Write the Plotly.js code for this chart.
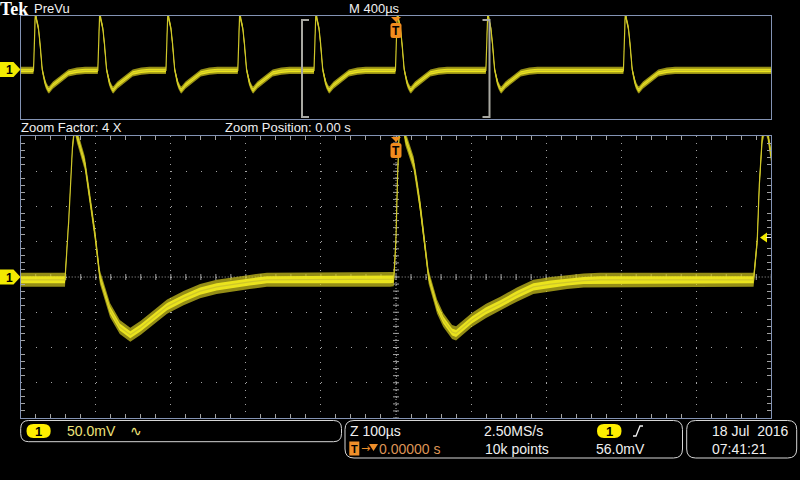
<!DOCTYPE html>
<html><head><meta charset="utf-8">
<script src="https://cdn.plot.ly/plotly-3.0.1.min.js"></script>
<style>html,body{margin:0;padding:0;background:#000;overflow:hidden}#chart{width:800px;height:480px}</style>
</head><body><div id="chart"></div>
<script>
// ---------------- data (time in µs, voltage in mV) ----------------
// Zoomed window (Z 100µs/div, 50.0mV/div), trigger at t = 0
const zoomTimeUs = [-500, -470, -441, -436, -431, -428, -425, -414.5, -408, -401, -394.5, -385, -381, -368, -354, -340, -332, -305, -283, -261, -239, -217, -195, -172, -120, -60, -8, -3, -1, 0, 2, 4, 7, 10, 12.4, 23.5, 28, 32.4, 43.5, 54.7, 63, 74.7, 80, 101, 120, 139, 161, 183, 206, 228, 250, 272, 330, 400, 450, 476.4, 481.3, 484, 488, 492, 495, 499, 500];
const zoomVoltMv = [-4, -4, -4, 80, 185, 215, 200, 161, 113, 60, 0, -33, -47, -71, -82, -72, -65, -42, -30, -20, -14, -10, -7, -4, -4, -4, -4, -3, 34, 56, 140, 200, 222, 213, 197, 161, 131, 100, 0, -42, -61, -78, -80, -61, -48, -38, -25, -14, -10, -7, -5, -4, -4, -4, -4, -4, 52, 130, 199, 215, 205, 176, 170];
// PreVu record (M 400µs/div): pulse onsets and the pulse shape seen in the zoom
const prevuPulseOnsetUs = [-1932, -1589, -1226, -843, -437, -3, 479, 1212];
const pulseShapeDtUs = [0, 2, 3, 5, 7, 10, 13, 15.4, 26.5, 31, 35.4, 46.5, 57.7, 66, 77.7, 83, 104, 142, 186, 231, 275];
const pulseShapeMv  = [-4, 34, 56, 150, 200, 222, 215, 197, 161, 131, 100, 0, -42, -61, -78, -80, -61, -38, -14, -7, -4];
const baselineMv = -4;
const noiseInnerMv = 5, noiseOuterMv = 10;          // noise half-widths on the zoomed trace
const prevuNoiseInnerMv = 7, prevuNoiseOuterMv = 14; // noise half-widths on the PreVu trace
const triggerLevelMv = 56.0;

// readouts
const headerTexts = {brand: 'Tek', mode: 'PreVu', main: 'M 400µs', zoomFactor: 'Zoom Factor: 4 X', zoomPos: 'Zoom Position: 0.00 s'};
const chScale = '50.0mV';
const zoomScale = 'Z 100µs', trigPos = '0.00000 s';
const sampleRate = '2.50MS/s', recordLen = '10k points';
const trigLevelText = '56.0mV';
const dateText = '18 Jul  2016', timeText = '07:41:21';

// ---------------- build PreVu trace from onsets + pulse shape ----------------
const prevuTimeUs = [-2000], prevuVoltMv = [baselineMv];
prevuPulseOnsetUs.forEach(t0 => {
  pulseShapeDtUs.forEach((dt, i) => { prevuTimeUs.push(t0 + dt); prevuVoltMv.push(pulseShapeMv[i]); });
});
prevuTimeUs.push(2000); prevuVoltMv.push(baselineMv);

function band(t, v, n) {
  return {x: t.concat(t.slice().reverse()), y: v.map(a => a + n).concat(v.map(a => a - n).reverse())};
}
const YEL_IN = 'rgba(238,232,30,0.95)', YEL_OUT = 'rgba(205,195,30,0.72)', YEL_LINE = '#cfc72a';
function traceSet(t, v, nIn, nOut, xa, ya) {
  const bo = band(t, v, nOut), bi = band(t, v, nIn);
  return [
    {x: bo.x, y: bo.y, xaxis: xa, yaxis: ya, type: 'scatter', mode: 'lines', fill: 'toself', fillcolor: YEL_OUT, line: {width: 0}, hoverinfo: 'skip'},
    {x: bi.x, y: bi.y, xaxis: xa, yaxis: ya, type: 'scatter', mode: 'lines', fill: 'toself', fillcolor: YEL_IN, line: {width: 0}, hoverinfo: 'skip'},
    {x: t, y: v, xaxis: xa, yaxis: ya, type: 'scatter', mode: 'lines', line: {color: YEL_LINE, width: 1.2}, hoverinfo: 'skip'}
  ];
}
const data = [].concat(
  traceSet(prevuTimeUs, prevuVoltMv, prevuNoiseInnerMv, prevuNoiseOuterMv, 'x', 'y'),
  traceSet(zoomTimeUs, zoomVoltMv, noiseInnerMv, noiseOuterMv, 'x2', 'y2')
);

// ---------------- layout helpers (pixels -> paper) ----------------
const W = 800, H = 480;
const X = x => x / W, Y = y => 1 - y / H;
function rr(x0, y0, x1, y1, r) {
  const p = (x, y) => X(x) + ',' + Y(y);
  return 'M' + p(x0 + r, y0) + ' L' + p(x1 - r, y0) + ' Q' + p(x1, y0) + ' ' + p(x1, y0 + r) +
    ' L' + p(x1, y1 - r) + ' Q' + p(x1, y1) + ' ' + p(x1 - r, y1) + ' L' + p(x0 + r, y1) +
    ' Q' + p(x0, y1) + ' ' + p(x0, y1 - r) + ' L' + p(x0, y0 + r) + ' Q' + p(x0, y0) + ' ' + p(x0 + r, y0) + ' Z';
}
function poly(pts) { return 'M' + pts.map(q => X(q[0]) + ',' + Y(q[1])).join(' L') + ' Z'; }
function polyline(pts) { return 'M' + pts.map(q => X(q[0]) + ',' + Y(q[1])).join(' L'); }
const shapes = [], annotations = [];
const FONT = 'Liberation Sans, Arial, sans-serif';
function txt(x, y, text, color, size, extra) {
  annotations.push(Object.assign({xref: 'paper', yref: 'paper', x: X(x), y: Y(y), text: text, showarrow: false,
    xanchor: 'left', yanchor: 'middle', borderpad: 0, font: {family: FONT, size: size, color: color}}, extra || {}));
}

const L = 20.7, R = 771.3, TT = 16, TB = 118.7, BT = 136, BB = 418;
const GRID = '#a2a2a2', BORDER = '#8393b4';

// center cross of the zoom grid (denser dots + minor ticks)
shapes.push({type: 'line', xref: 'x2', yref: 'y2', x0: -500, x1: 500, y0: 0, y1: 0, line: {color: GRID, width: 1, dash: '1px,2px'}, layer: 'below'});
shapes.push({type: 'line', xref: 'x2', yref: 'y2', x0: 0, x1: 0, y0: -200, y1: 200, line: {color: GRID, width: 1, dash: '1px,2px'}, layer: 'below'});
for (let k = -500; k <= 500; k += 20) {
  shapes.push({type: 'line', xref: 'x2', yref: 'y2', x0: k, x1: k, ysizemode: 'pixel', yanchor: 0, y0: -3, y1: 3, line: {color: GRID, width: 1}, layer: 'below'});
}
for (let k = -200; k <= 200; k += 10) {
  shapes.push({type: 'line', xref: 'x2', yref: 'y2', y0: k, y1: k, xsizemode: 'pixel', xanchor: 0, x0: -3, x1: 3, line: {color: GRID, width: 1}, layer: 'below'});
}

// zoom bracket on the PreVu window
const BR = '#a9a9a2';
shapes.push({type: 'path', xref: 'paper', yref: 'paper', path: polyline([[309, 20], [302, 20], [302, 117], [309, 117]]), line: {color: BR, width: 2}});
shapes.push({type: 'path', xref: 'paper', yref: 'paper', path: polyline([[482.5, 20], [489.5, 20], [489.5, 117], [482.5, 117]]), line: {color: BR, width: 2}});

// channel markers
const CHY = '#f2ea00';
[[69.5], [277]].forEach(([cy]) => {
  shapes.push({type: 'path', xref: 'paper', yref: 'paper', path: poly([[0, cy - 7.5], [13.5, cy - 7.5], [20.5, cy], [13.5, cy + 7.5], [0, cy + 7.5]]), fillcolor: CHY, line: {width: 0}});
  txt(5, cy + 0.5, '<b>1</b>', '#000', 12);
});

// trigger markers
const ORG = '#f08c1e';
[[17, 23, 38], [137, 143, 158]].forEach(([ty, ry0, ry1]) => {
  shapes.push({type: 'path', xref: 'paper', yref: 'paper', path: poly([[391, ty], [401, ty], [396, ty + 5]]), fillcolor: ORG, line: {width: 0}});
  shapes.push({type: 'path', xref: 'paper', yref: 'paper', path: rr(390.5, ry0, 401.5, ry1, 2.5), fillcolor: ORG, line: {width: 0}});
  txt(396, (ry0 + ry1) / 2 + 0.5, '<b>T</b>', '#000', 12, {xanchor: 'center'});
});

// trigger level arrow (right edge of zoom window), placed at triggerLevelMv on the zoom scale
const trigY = BT + (200 - triggerLevelMv) / 400 * (BB - BT);
shapes.push({type: 'path', xref: 'paper', yref: 'paper', path: poly([[760, trigY], [767, trigY - 5], [767, trigY + 5]]), fillcolor: CHY, line: {width: 0}});
shapes.push({type: 'line', xref: 'paper', yref: 'paper', x0: X(766), x1: X(771), y0: Y(trigY), y1: Y(trigY), line: {color: '#e8e8e8', width: 1}});

// header texts
txt(-1, 9, '<b>' + headerTexts.brand + '</b>', '#ffffff', 18, {font: {family: 'Liberation Serif, serif', size: 18, color: '#fff'}});
txt(33, 8.5, headerTexts.mode, '#f0f0f0', 13);
txt(348, 8.5, headerTexts.main, '#f0f0f0', 13);
txt(20, 128, headerTexts.zoomFactor, '#f0f0f0', 13);
txt(224, 128, headerTexts.zoomPos, '#f0f0f0', 13);

// readout boxes
const BOXC = '#d6d6d6';
shapes.push({type: 'path', xref: 'paper', yref: 'paper', path: rr(20.7, 420.5, 341.5, 441.7, 8), line: {color: BOXC, width: 1}});
shapes.push({type: 'path', xref: 'paper', yref: 'paper', path: rr(345, 420.5, 682.5, 458, 9), line: {color: BOXC, width: 1}});
shapes.push({type: 'path', xref: 'paper', yref: 'paper', path: rr(686.7, 420.5, 796.7, 458, 9), line: {color: BOXC, width: 1}});
// yellow channel pills
[[26.5, 50.7, 424, 438], [597, 621.5, 424, 438]].forEach(([a, b, c, d]) => {
  shapes.push({type: 'path', xref: 'paper', yref: 'paper', path: rr(a, c, b, d, 7), fillcolor: '#ffee00', line: {width: 0}});
  txt((a + b) / 2, (c + d) / 2 + 0.5, '<b>1</b>', '#000', 13, {xanchor: 'center'});
});
txt(66, 431, chScale, '#eee37a', 14);
txt(129, 431, '∿', '#eee37a', 14, {font: {family: 'DejaVu Sans', size: 14, color: '#eee37a'}});
txt(349, 431, zoomScale, '#f0f0f0', 14);
shapes.push({type: 'rect', xref: 'paper', yref: 'paper', x0: X(349.3), x1: X(359.3), y0: Y(441.5), y1: Y(455.5), fillcolor: '#ee8f2a', line: {width: 0}});
txt(354.3, 449, '<b>T</b>', '#000', 11, {xanchor: 'center'});
txt(359.5, 448, '→', '#ee8f2a', 12, {font: {family: 'DejaVu Sans', size: 11, color: '#ee8f2a'}});
shapes.push({type: 'path', xref: 'paper', yref: 'paper', path: poly([[369, 444], [378, 444], [373.5, 451]]), fillcolor: '#ee8f2a', line: {width: 0}});
txt(378, 449, trigPos, '#dd9456', 14);
txt(483, 431, sampleRate, '#f0f0f0', 14);
txt(484, 449, recordLen, '#f0f0f0', 14);
shapes.push({type: 'path', xref: 'paper', yref: 'paper', path: polyline([[633, 436], [636, 436], [640, 426], [643, 426]]), line: {color: '#f0f0f0', width: 1.3}});
txt(595, 449, trigLevelText, '#f0f0f0', 14);
txt(711, 431, dateText, '#f0f0f0', 14);
txt(711, 449, timeText, '#f0f0f0', 14);

const axCommon = {showticklabels: false, zeroline: false, showline: true, mirror: 'allticks', linecolor: BORDER, linewidth: 1, fixedrange: true};
const layout = {
  width: W, height: H, margin: {l: 0, r: 0, t: 0, b: 0},
  paper_bgcolor: '#000', plot_bgcolor: '#000', showlegend: false,
  xaxis: Object.assign({}, axCommon, {domain: [X(L), X(R)], range: [-2000, 2000], anchor: 'y', showgrid: false, ticks: '', mirror: true}),
  yaxis: Object.assign({}, axCommon, {domain: [Y(TB), Y(TT)], range: [-192, 208], anchor: 'x', showgrid: false, ticks: '', mirror: true}),
  xaxis2: Object.assign({}, axCommon, {domain: [X(L), X(R)], range: [-500, 500], anchor: 'y2', showgrid: true, tick0: -500, dtick: 100,
    gridcolor: GRID, gridwidth: 1, griddash: '1px,6.05px', ticks: '',
    minor: {tick0: -500, dtick: 20, ticks: 'inside', ticklen: 4, tickcolor: GRID, showgrid: false}}),
  yaxis2: Object.assign({}, axCommon, {domain: [Y(BB), Y(BT)], range: [-200, 200], anchor: 'x2', showgrid: true, tick0: -200, dtick: 50,
    gridcolor: GRID, gridwidth: 1, griddash: '1px,14px', ticks: '',
    minor: {tick0: -200, dtick: 10, ticks: 'inside', ticklen: 4, tickcolor: GRID, showgrid: false}}),
  shapes: shapes, annotations: annotations
};
Plotly.newPlot('chart', data, layout, {staticPlot: true, displayModeBar: false});
</script></body></html>
